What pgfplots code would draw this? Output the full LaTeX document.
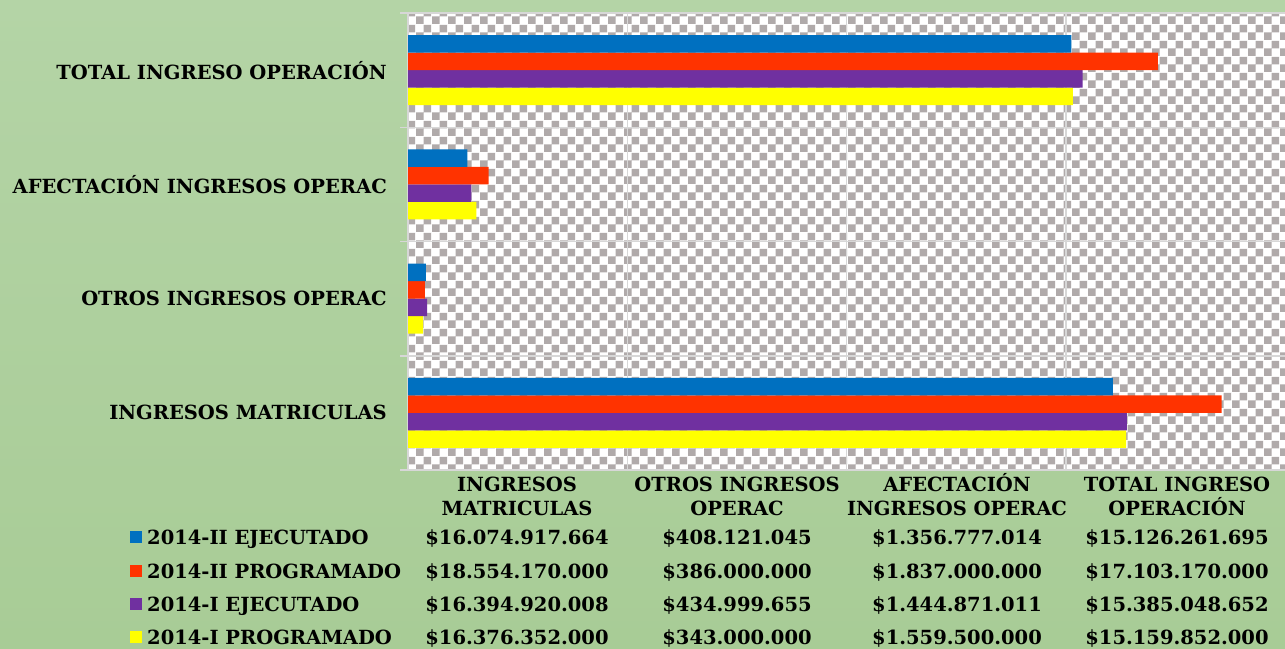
\documentclass[border=0pt]{standalone}
\usepackage{pgfplots}
\usepackage{pgfplotstable}
\pgfplotsset{compat=1.18}
\usepackage{fontspec}
\setmainfont{DejaVu Serif}
\usetikzlibrary{patterns}
\definecolor{cblue}{HTML}{0070C0}
\definecolor{cred}{HTML}{FF3300}
\definecolor{cpurp}{HTML}{7030A0}
\definecolor{cyel}{HTML}{FFFF00}
\definecolor{bgtop}{RGB}{180,212,166}
\definecolor{bgbot}{RGB}{168,204,150}
\definecolor{checkgray}{RGB}{176,170,170}
\definecolor{gridc}{RGB}{215,215,215}
\pgfdeclarepatternformonly{checker8}{\pgfpointorigin}{\pgfqpoint{16pt}{16pt}}{\pgfqpoint{16pt}{16pt}}{%
  \pgfpathrectangle{\pgfpointorigin}{\pgfqpoint{8pt}{8pt}}%
  \pgfpathrectangle{\pgfqpoint{8pt}{8pt}}{\pgfqpoint{8pt}{8pt}}%
  \pgfusepath{fill}}
\newcommand\tf{\fontsize{19.5}{24}\selectfont\bfseries}
\pgfplotstableread{
cat blueE redP purpE yelP
0 15.126261695 17.10317 15.385048652 15.159852
1 1.356777014 1.837 1.444871011 1.5595
2 0.408121045 0.386 0.434999655 0.343
3 16.074917664 18.55417 16.394920008 16.376352
}\data
\begin{document}
\begin{tikzpicture}[x=1pt,y=1pt]
\shade[top color=bgtop,bottom color=bgbot] (0,0) rectangle (1285,-648);
\fill[white] (408,-13) rectangle (1285,-470);
\fill[pattern=checker8,pattern color=checkgray] (408,-13) rectangle (1285,-470);
\begin{axis}[at={(408pt,-13pt)}, anchor=north west,
  width=877pt, height=457pt, scale only axis,
  xmin=0, xmax=20, ymin=-0.5, ymax=3.5, y dir=reverse,
  xbar=0pt, bar width=17.5pt,
  ytick={0,1,2,3},
  yticklabels={TOTAL INGRESO OPERACIÓN, AFECTACIÓN INGRESOS OPERAC, OTROS INGRESOS OPERAC, INGRESOS MATRICULAS},
  yticklabel style={font=\tf, inner sep=0pt, xshift=-21pt},
  xtick={5,10,15}, xticklabels={},
  xmajorgrids, major grid style={gridc, line width=1.5pt},
  minor ytick={-0.5,0.5,1.5,2.5,3.5}, yminorgrids,
  minor grid style={gridc, line width=1.5pt},
  major tick length=0pt, minor tick length=8pt, tick align=outside,
  tick style={gridc, line width=1.5pt},
  axis line style={gridc, line width=1.5pt},
  axis x line*=bottom, axis y line*=left,
  clip=false]
\addplot[fill=cyel, draw=none] table[x=yelP, y=cat]{\data};
\addplot[fill=cpurp, draw=none] table[x=purpE, y=cat]{\data};
\addplot[fill=cred, draw=none] table[x=redP, y=cat]{\data};
\addplot[fill=cblue, draw=none] table[x=blueE, y=cat]{\data};
\end{axis}
% data table
\foreach \cx/\la/\lb in {517/INGRESOS/MATRICULAS, 737/OTROS INGRESOS/OPERAC, 957/AFECTACIÓN/INGRESOS OPERAC, 1177/TOTAL INGRESO/OPERACIÓN}{
  \node[anchor=base, inner sep=0pt, font=\tf] at (\cx,-491) {\la};
  \node[anchor=base, inner sep=0pt, font=\tf] at (\cx,-515.5) {\lb};
}
\foreach \ry/\col/\lab/\va/\vb/\vc/\vd in {
  536.5/cblue/2014-II EJECUTADO/\$16.074.917.664/\$408.121.045/\$1.356.777.014/\$15.126.261.695,
  570.5/cred/2014-II PROGRAMADO/\$18.554.170.000/\$386.000.000/\$1.837.000.000/\$17.103.170.000,
  604/cpurp/2014-I EJECUTADO/\$16.394.920.008/\$434.999.655/\$1.444.871.011/\$15.385.048.652,
  637/cyel/2014-I PROGRAMADO/\$16.376.352.000/\$343.000.000/\$1.559.500.000/\$15.159.852.000}{
  \fill[\col] (130,-\ry+6) rectangle (142,-\ry-6);
  \node[anchor=base west, inner sep=0pt, font=\tf] at (147,-\ry-7.5) {\lab};
  \node[anchor=base, inner sep=0pt, font=\tf] at (517,-\ry-7.5) {\va};
  \node[anchor=base, inner sep=0pt, font=\tf] at (737,-\ry-7.5) {\vb};
  \node[anchor=base, inner sep=0pt, font=\tf] at (957,-\ry-7.5) {\vc};
  \node[anchor=base, inner sep=0pt, font=\tf] at (1177,-\ry-7.5) {\vd};
}
\pgfresetboundingbox
\useasboundingbox (0,0) rectangle (1285,-648);
\end{tikzpicture}
\end{document}
